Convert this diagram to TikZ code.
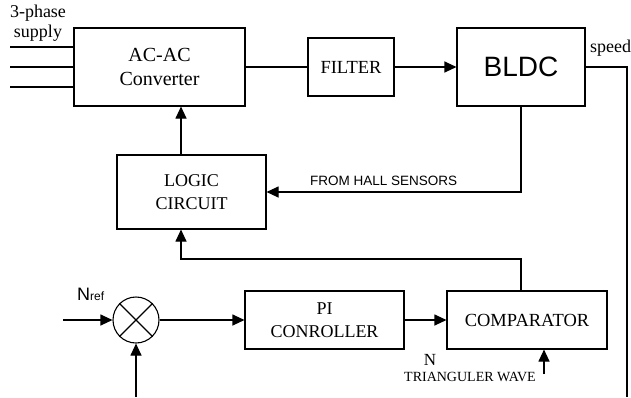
\documentclass[tikz,border=0pt]{standalone}
\usepackage{fontspec}
\setmainfont{Liberation Serif}
\setsansfont{Liberation Sans}
\usetikzlibrary{arrows.meta,calc}
\begin{document}
\begin{tikzpicture}[x=1pt,y=-1pt,
  blk/.style={draw,line width=1.1pt,inner sep=0pt,align=center,font=\fontsize{18.5}{21}\selectfont},
  wire/.style={line width=1.1pt},
  arr/.style={wire,-{Triangle[length=12pt,width=11pt]}},
  lbl/.style={inner sep=0pt}]
\useasboundingbox (0,0) rectangle (631,397);
% blocks
\node[blk,minimum width=171pt,minimum height=78pt,font=\fontsize{20}{24}\selectfont] (ac) at (159.5,67) {AC-AC\\Converter};
\node[blk,minimum width=86pt,minimum height=58pt] (filter) at (351,67) {FILTER};
\node[blk,minimum width=128pt,minimum height=78pt,font=\sffamily\fontsize{28}{30}\selectfont] (bldc) at (521,67) {BLDC};
\node[blk,minimum width=149pt,minimum height=74pt,font=\fontsize{18}{23}\selectfont] (logic) at (191.5,192) {LOGIC\\CIRCUIT};
\node[blk,minimum width=159pt,minimum height=58pt,font=\fontsize{18}{23}\selectfont] (pi) at (324.5,320) {PI\\CONROLLER};
\node[blk,minimum width=160pt,minimum height=58pt] (comp) at (527,320) {COMPARATOR};
\node[draw,circle,line width=1.1pt,minimum size=46pt,inner sep=0pt] (sum) at (136,320) {};
\draw[wire] (sum.north east) -- (sum.south west);
\draw[wire] (sum.north west) -- (sum.south east);
% free ends
\coordinate (in1) at (10,47);
\coordinate (in2) at (10,67);
\coordinate (in3) at (10,87);
\coordinate (spd) at (627,397);
\coordinate (lx) at (181,0);
\coordinate (cx) at (521,259);
\coordinate (nin) at (63,320);
\coordinate (fb) at (136,397);
\coordinate (tw) at (544,374);
% connectors
\draw[wire] (in1) -- (in1 -| ac.west);
\draw[wire] (in2) -- (in2 -| ac.west);
\draw[wire] (in3) -- (in3 -| ac.west);
\draw[wire] (ac.east) -- (filter.west);
\draw[arr] (filter.east) -- (bldc.west);
\draw[wire] (bldc.east) -| (spd);
\draw[arr] (bldc.south) |- (logic.east);
\draw[arr] (logic.north -| lx) -- (ac.south -| lx);
\draw[arr] (comp.north -| cx) -- (cx) -| (logic.south -| lx);
\draw[arr] (nin) -- (sum.west);
\draw[arr] (fb) -- (sum.south);
\draw[arr] (sum.east) -- (pi.west);
\draw[arr] (pi.east) -- (comp.west);
\draw[arr] (tw) -- (comp.south -| tw);
% labels
\node[lbl,font=\fontsize{18}{20}\selectfont,anchor=base] (ph) at (38,17) {3-phase};
\node[lbl,font=\fontsize{18}{20}\selectfont,anchor=base] (sp) at (38,37) {supply};
\node[lbl,font=\fontsize{18}{20}\selectfont,anchor=base west] (speed) at (590,52) {speed};
\node[lbl,font=\sffamily\fontsize{13.5}{15}\selectfont,anchor=base west] (hall) at (310,185) {FROM HALL SENSORS};
\node[lbl,font=\sffamily,anchor=base west] (nref) at (77,300.5) {\fontsize{18}{20}\selectfont N\fontsize{12}{14}\selectfont ref};
\node[lbl,font=\fontsize{17}{19}\selectfont,anchor=base] (nlbl) at (430,365) {N};
\node[lbl,font=\fontsize{14}{16}\selectfont,anchor=base] (tri) at (470,381) {TRIANGULER WAVE};
\end{tikzpicture}
\end{document}
